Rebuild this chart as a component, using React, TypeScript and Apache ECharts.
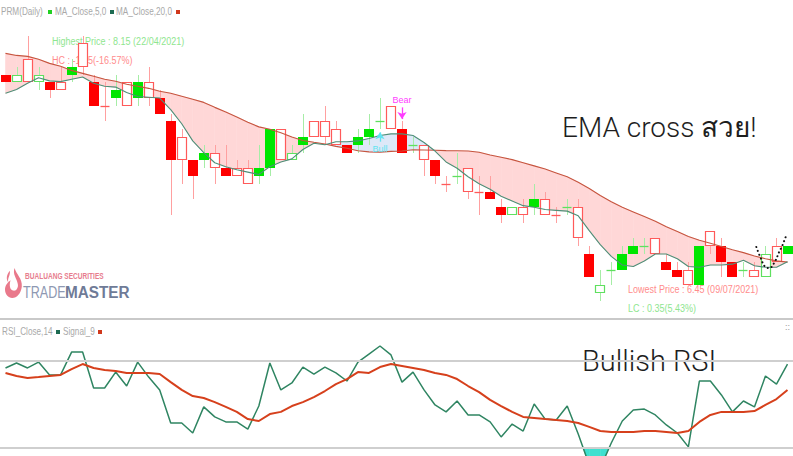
import React, { useEffect, useRef } from "react";
import * as echarts from "echarts";

// ---------- data ----------
const dates = ["20/04/2021","21/04/2021","22/04/2021","23/04/2021","26/04/2021","27/04/2021","28/04/2021","29/04/2021","30/04/2021","05/05/2021",
"06/05/2021","07/05/2021","10/05/2021","11/05/2021","12/05/2021","13/05/2021","14/05/2021","17/05/2021","18/05/2021","19/05/2021",
"20/05/2021","21/05/2021","24/05/2021","25/05/2021","27/05/2021","28/05/2021","31/05/2021","01/06/2021","02/06/2021","04/06/2021",
"07/06/2021","08/06/2021","09/06/2021","10/06/2021","11/06/2021","14/06/2021","15/06/2021","16/06/2021","17/06/2021","18/06/2021",
"21/06/2021","22/06/2021","23/06/2021","24/06/2021","25/06/2021","28/06/2021","29/06/2021","30/06/2021","01/07/2021","02/07/2021",
"05/07/2021","06/07/2021","07/07/2021","08/07/2021","09/07/2021","12/07/2021","13/07/2021","14/07/2021","15/07/2021","16/07/2021",
"19/07/2021","20/07/2021","21/07/2021","22/07/2021","23/07/2021","27/07/2021","29/07/2021","30/07/2021","02/08/2021","03/08/2021",
"04/08/2021","05/08/2021"];

const opens = [7.90,7.85,8.00,7.85,7.85,7.85,7.90,8.10,7.85,7.70,
7.75,7.85,7.75,7.85,7.75,7.60,7.50,7.35,7.35,7.40,
7.30,7.30,7.30,7.25,7.30,7.55,7.35,7.45,7.60,7.60,
7.55,7.45,7.45,7.50,7.60,7.70,7.55,7.45,7.45,7.35,
7.20,7.25,7.30,7.15,7.15,7.05,7.00,7.05,7.05,7.10,
7.00,7.05,7.05,6.75,6.50,6.65,6.65,6.75,6.80,6.85,
6.70,6.65,6.65,6.55,6.90,6.80,6.70,6.65,6.65,6.60,
6.80,6.75];
const highs = [7.90,7.95,8.15,7.95,7.85,7.95,8.00,8.15,7.90,7.85,
7.90,7.85,7.90,7.95,7.80,7.65,7.55,7.35,7.45,7.45,
7.45,7.35,7.35,7.45,7.55,7.55,7.45,7.65,7.60,7.70,
7.60,7.45,7.55,7.65,7.75,7.70,7.60,7.50,7.45,7.35,
7.25,7.40,7.30,7.25,7.25,7.10,7.05,7.10,7.20,7.15,
7.05,7.10,7.10,6.80,6.65,6.70,6.80,6.85,6.85,6.85,
6.75,6.70,6.70,6.80,6.90,6.85,6.70,6.70,6.70,6.80,
6.85,6.80];
const lows = [7.85,7.85,7.85,7.80,7.75,7.80,7.85,7.90,7.70,7.60,
7.70,7.70,7.70,7.70,7.65,7.00,7.20,7.10,7.30,7.20,
7.25,7.25,7.20,7.20,7.25,7.35,7.35,7.40,7.50,7.45,
7.45,7.40,7.40,7.45,7.55,7.55,7.40,7.40,7.25,7.20,
7.15,7.20,7.10,7.00,7.10,6.95,7.00,6.95,7.00,7.00,
6.95,7.00,6.80,6.60,6.45,6.55,6.65,6.75,6.75,6.75,
6.65,6.60,6.55,6.55,6.75,6.60,6.60,6.60,6.60,6.60,
6.70,6.75];
const closes = [7.85,7.90,7.85,7.90,7.80,7.80,7.95,7.95,7.70,7.70,
7.80,7.70,7.85,7.75,7.65,7.35,7.35,7.25,7.40,7.30,
7.25,7.25,7.20,7.30,7.55,7.35,7.40,7.50,7.50,7.50,
7.45,7.40,7.50,7.55,7.60,7.55,7.40,7.45,7.35,7.25,
7.20,7.25,7.15,7.15,7.10,7.00,7.05,7.00,7.10,7.00,
7.00,7.05,6.85,6.60,6.55,6.65,6.75,6.80,6.80,6.75,
6.65,6.60,6.55,6.80,6.80,6.70,6.60,6.65,6.60,6.75,
6.70,6.80];
// 1 = hollow body, 0 = solid body (as drawn by the platform)
const hollow = [0,1,1,1,0,1,0,1,0,0,
0,1,0,1,0,0,1,0,0,1,
0,1,1,0,0,1,1,0,1,1,
1,0,0,0,0,1,0,0,1,0,
0,0,1,0,0,0,1,1,0,1,
0,0,1,0,1,0,0,0,0,1,
0,0,1,0,1,0,0,0,1,1,
1,0];
// doji days drawn in the "up" colour
const dojiUp = [34, 37, 41, 51, 55, 58, 67];

const ma5 = [7.78,7.805,7.845,7.88,7.86,7.855,7.87,7.885,7.845,7.825,
7.82,7.785,7.76,7.755,7.75,7.675,7.585,7.475,7.40,7.335,
7.31,7.29,7.275,7.26,7.31,7.34,7.36,7.42,7.46,7.45,
7.47,7.47,7.475,7.49,7.51,7.52,7.52,7.51,7.465,7.41,
7.34,7.30,7.245,7.20,7.165,7.12,7.09,7.06,7.05,7.035,
7.03,7.025,6.995,6.90,6.81,6.735,6.68,6.67,6.705,6.75,
6.75,6.72,6.67,6.665,6.68,6.68,6.685,6.71,6.675,6.665,
6.665,6.70];
const ma20 = [8.036,8.023,8.017,7.998,7.972,7.953,7.927,7.908,7.889,7.870,
7.857,7.838,7.825,7.812,7.793,7.780,7.761,7.742,7.722,7.690,
7.660,7.628,7.595,7.565,7.550,7.527,7.500,7.478,7.466,7.455,
7.440,7.428,7.412,7.405,7.403,7.408,7.410,7.418,7.417,7.415,
7.413,7.412,7.410,7.402,7.385,7.370,7.355,7.335,7.315,7.295,
7.270,7.245,7.210,7.170,7.125,7.085,7.050,7.020,6.990,6.960,
6.925,6.895,6.862,6.838,6.819,6.798,6.777,6.759,6.737,6.720,
6.706,6.698];

const rsi = [66.8,69.1,66.8,69.5,63.6,63.6,74.1,74.1,57.6,57.6,
64.9,58.5,69.5,62.6,56.7,41.5,41.5,36.9,48.9,44.3,
42.0,42.0,38.7,49.3,69.1,56.7,59.9,67.2,64.0,67.2,
64.5,60.8,69.5,73.2,76.9,72.8,60.3,64.9,56.7,49.8,
46.6,51.6,45.2,45.2,42.0,35.1,41.0,37.8,50.2,43.3,
42.9,49.3,36.4,22.2,20.8,32.3,42.4,47.5,47.9,45.2,
40.6,36.9,30.5,60.8,60.8,54.4,46.6,51.6,48.9,63.1,
59.4,68.6];
const signal = [64.5,63.1,62.2,62.6,63.1,63.6,66.3,68.6,66.8,65.9,
65.4,64.5,64.5,64.5,64.0,60.3,56.7,53.9,53.0,51.1,
48.9,46.6,43.3,42.4,45.6,46.6,49.3,51.1,53.4,56.2,
59.4,61.7,64.9,64.5,67.2,68.6,67.7,66.8,65.9,64.5,
63.6,61.7,58.5,55.7,52.1,49.3,46.6,44.3,43.8,43.3,
42.9,42.4,41.5,39.7,37.8,37.4,37.4,37.4,37.8,37.8,
37.4,36.9,37.8,42.0,45.2,46.6,46.6,46.6,47.0,49.8,
52.5,56.7];
const rsiLevels = [70, 30];

const crossSignals = [
  { idx: 34, name: "Bull", from: 7.47, to: 7.53, color: "#5fe3f0" },
  { idx: 36, name: "Bear", from: 7.69, to: 7.615, color: "#ff3cff" },
];
// hand-drawn dotted mark near the end (index, price)
const sketch = [[68.17, 6.795], [68.53, 6.731], [68.98, 6.667], [69.34, 6.66], [69.88, 6.705], [70.24, 6.763], [70.51, 6.801], [70.87, 6.866]];

const labels = {
  high: "Highest Price : 8.15 (22/04/2021)",
  hc: "HC : -1.35(-16.57%)",
  low: "Lowest Price : 6.45 (09/07/2021)",
  lc: "LC : 0.35(5.43%)",
};

// ---------- styles ----------
const NARROW = "'Liberation Sans Narrow','Arial Narrow','Liberation Sans',Arial,sans-serif";
const RED = "#ff0000", RED_LINE = "#ff5a5a", RED_WICK = "#ffa0a0";
const GREEN = "#00e600", GREEN_LINE = "#5fe05f", GREEN_WICK = "#a6eda6";
const PINK_FILL = "#ffd7d7", BLUE_FILL = "#dde8f8";
const MA5_COLOR = "#4f8f78", MA20_COLOR = "#c6553f";
const RSI_COLOR = "#2f8562", SIG_COLOR = "#d6401c";

const FLAME = "M12 0 C14 7 22 11 21 20 C20 27 15 32 9 32 C4 32 0 28 0 23 C0 18 4 15 7 13 C5 18 6 23 10 24 C14 25 17 21 16 17 C15 11 9 7 12 0 Z M6 3 C7 8 3 10 4 15 C1 12 2 7 6 3 Z";
echarts.graphic.registerShape("flame", echarts.graphic.extendPath(FLAME, {}) as any);

function candleItem(params: any, api: any) {
  const i = api.value(0);
  const o = api.value(1), c = api.value(2), l = api.value(3), h = api.value(4);
  const isHollow = api.value(5) === 1;
  const pO = api.coord([i, o]), pC = api.coord([i, c]);
  const pL = api.coord([i, l]), pH = api.coord([i, h]);
  const bw = api.size([1, 0])[0] * 0.9;
  const cx = Math.round(pO[0]) + 0.5;
  const left = Math.round(pO[0] - bw / 2) + 0.5;
  const w = Math.round(bw) - 1;
  const doji = Math.abs(c - o) < 1e-9;
  const up = doji ? api.value(6) === 1 : c > o;
  const top = Math.round(Math.min(pO[1], pC[1]));
  const bot = Math.round(Math.max(pO[1], pC[1]));
  const children: any[] = [
    { type: "line", shape: { x1: cx, y1: Math.round(pH[1]), x2: cx, y2: Math.round(pL[1]) },
      style: { stroke: up ? GREEN_WICK : RED_WICK, lineWidth: 1 } },
  ];
  if (doji) {
    const y = Math.round(pO[1]) + 0.5;
    children.push({ type: "line", shape: { x1: left, y1: y, x2: left + w, y2: y },
      style: { stroke: up ? GREEN_LINE : RED_LINE, lineWidth: 1.3 } });
  } else if (isHollow) {
    children.push({ type: "rect", shape: { x: left, y: top + 0.5, width: w, height: Math.max(1, bot - top - 1) },
      style: { fill: "#ffffff", stroke: up ? GREEN_LINE : RED_LINE, lineWidth: 1.2 } });
  } else {
    children.push({ type: "rect", shape: { x: left - 0.5, y: top, width: w + 1, height: Math.max(1, bot - top) },
      style: { fill: up ? GREEN : RED } });
  }
  return { type: "group", children };
}

function bandItem(params: any, api: any) {
  const i = params.dataIndex;
  if (i >= ma5.length - 1) return null;
  const a5 = api.coord([i, ma5[i]]), a20 = api.coord([i, ma20[i]]);
  const b5 = api.coord([i + 1, ma5[i + 1]]), b20 = api.coord([i + 1, ma20[i + 1]]);
  const d0 = ma5[i] - ma20[i], d1 = ma5[i + 1] - ma20[i + 1];
  const col = (d: number) => (d > 0 ? BLUE_FILL : PINK_FILL);
  const poly = (pts: number[][], fill: string) => ({
    type: "polygon", shape: { points: pts }, style: { fill, stroke: fill, lineWidth: 0.6 },
  });
  if (d0 * d1 >= 0) {
    const d = Math.abs(d0) > Math.abs(d1) ? d0 : d1;
    return poly([a5, b5, b20, a20], col(d));
  }
  const t = d0 / (d0 - d1);
  const X = [a5[0] + (b5[0] - a5[0]) * t, a5[1] + (b5[1] - a5[1]) * t];
  return { type: "group", children: [poly([a5, X, a20], col(d0)), poly([X, b5, b20], col(d1))] };
}

function oversoldItem(params: any, api: any) {
  const i = params.dataIndex;
  if (i >= rsi.length - 1) return null;
  const lvl = rsiLevels[1];
  const r0 = rsi[i], r1 = rsi[i + 1];
  if (r0 >= lvl && r1 >= lvl) return null;
  const p0 = api.coord([i, r0]), p1 = api.coord([i + 1, r1]);
  const y30 = api.coord([i, lvl])[1];
  let pts: number[][];
  if (r0 < lvl && r1 < lvl) pts = [p0, p1, [p1[0], y30], [p0[0], y30]];
  else {
    const t = (r0 - lvl) / (r0 - r1);
    const xc = p0[0] + (p1[0] - p0[0]) * t;
    pts = r0 < lvl ? [p0, [xc, y30], [p0[0], y30]] : [[xc, y30], p1, [p1[0], y30]];
  }
  return { type: "polygon", shape: { points: pts }, style: { fill: "#3fe0cf", stroke: "#3fe0cf", lineWidth: 0.5 } };
}

const txt = (text: string, x: number, y: number, fill: string, size = 11, extra: any = {}) => ({
  type: "text", x, y, silent: true, scaleX: extra.scaleX ?? 1,
  style: { text, fill, font: `${extra.weight || "normal"} ${size}px ${extra.family || NARROW}`, textVerticalAlign: "middle", textAlign: "left" },
});
const sq = (x: number, y: number, fill: string) => ({ type: "rect", silent: true, shape: { x, y, width: 4, height: 4 }, style: { fill } });

export default function App() {
  const ref = useRef<HTMLDivElement>(null);
  useEffect(() => {
    if (!ref.current) return;
    const chart = echarts.init(ref.current, null, { renderer: "svg", width: 793, height: 456 });
    const idx = dates.map((_, i) => i);
    const option: any = {
      animation: false,
      backgroundColor: "#ffffff",
      grid: [
        { left: 0, width: 795, top: 20, height: 298 },
        { left: 0, width: 795, top: 322, height: 134 },
      ],
      xAxis: [
        { type: "category", data: dates, gridIndex: 0, show: false, boundaryGap: true },
        { type: "category", data: dates, gridIndex: 1, show: false, boundaryGap: true },
        { type: "value", gridIndex: 0, min: -0.5, max: dates.length - 0.5, show: false },
      ],
      yAxis: [
        { type: "value", gridIndex: 0, min: 6.34, max: 8.25, show: false, splitLine: { show: false } },
        { type: "value", gridIndex: 1, min: 26.32, max: 87.93, show: false, splitLine: { show: false } },
      ],
      series: [
        {
          type: "custom", name: "band", xAxisIndex: 0, yAxisIndex: 0, z: 1, silent: true, clip: true,
          renderItem: bandItem, data: idx.map((i) => [i, ma5[i], ma20[i]]), encode: { x: 0, y: [1, 2] },
        },
        {
          type: "custom", name: "PRM(Daily)", xAxisIndex: 0, yAxisIndex: 0, z: 3, silent: true, clip: true,
          renderItem: candleItem,
          data: idx.map((i) => [i, opens[i], closes[i], lows[i], highs[i], hollow[i], dojiUp.includes(i) ? 1 : 0]),
          encode: { x: 0, y: [1, 2, 3, 4] },
        },
        {
          type: "line", name: "MA_Close,20,0", xAxisIndex: 0, yAxisIndex: 0, z: 4, data: ma20, symbol: "none", silent: true,
          lineStyle: { color: MA20_COLOR, width: 1.1 },
          markLine: {
            silent: true, symbol: ["none", "arrow"], symbolSize: 7, animation: false,
            data: crossSignals.map((s) => [
              { coord: [s.idx, s.from], lineStyle: { color: s.color, width: 1.3, type: "solid" },
                label: { show: true, position: "start", formatter: s.name, color: s.color, fontSize: 9, fontFamily: NARROW, distance: 3 } },
              { coord: [s.idx, s.to] },
            ]),
          },
        },
        {
          type: "line", name: "MA_Close,5,0", xAxisIndex: 0, yAxisIndex: 0, z: 4, data: ma5, symbol: "none", silent: true,
          lineStyle: { color: MA5_COLOR, width: 1.1 },
        },
        {
          type: "line", name: "sketch", xAxisIndex: 2, yAxisIndex: 0, z: 5, data: sketch, symbol: "none", silent: true, smooth: 0.4,
          lineStyle: { color: "#111111", width: 2, type: [0.1, 4], cap: "round" },
        },
        {
          type: "custom", name: "oversold", xAxisIndex: 1, yAxisIndex: 1, z: 1, silent: true, clip: true,
          renderItem: oversoldItem, data: idx.map((i) => [i, rsi[i]]), encode: { x: 0, y: 1 },
        },
        {
          type: "line", name: "RSI_Close,14", xAxisIndex: 1, yAxisIndex: 1, z: 3, data: rsi, symbol: "none", silent: true,
          lineStyle: { color: RSI_COLOR, width: 1.5 },
          markLine: {
            silent: true, symbol: ["none", "none"], animation: false, label: { show: false },
            lineStyle: { color: "#cfcfcf", width: 1.8, type: "solid" },
            data: rsiLevels.map((v) => ({ yAxis: v })),
          },
        },
        {
          type: "line", name: "Signal_9", xAxisIndex: 1, yAxisIndex: 1, z: 4, data: signal, symbol: "none", silent: true,
          lineStyle: { color: SIG_COLOR, width: 2 },
        },
      ],
      graphic: {
        elements: [
          // panel separator
          { type: "rect", silent: true, shape: { x: 0, y: 318, width: 793, height: 2 }, style: { fill: "#c9c9c9" } },
          // price legend
          txt("PRM(Daily)", 1, 12, "#a9a9a9", 10, { scaleX: 0.82 }),
          sq(48, 10, "#22d022"),
          txt("MA_Close,5,0", 55, 12, "#a9a9a9", 10, { scaleX: 0.82 }),
          sq(110, 10, "#1d6b52"),
          txt("MA_Close,20,0", 116, 12, "#a9a9a9", 10, { scaleX: 0.82 }),
          sq(176, 10, "#d0381c"),
          // rsi legend
          txt("RSI_Close,14", 2, 332, "#a9a9a9", 10, { scaleX: 0.82 }),
          sq(56, 330, "#1d6b52"),
          txt("Signal_9", 63, 332, "#a9a9a9", 10, { scaleX: 0.82 }),
          sq(98, 330, "#d0381c"),
          txt("::", 785, 327, "#9a9a9a", 9),
          // high / low annotations
          txt(labels.high, 52, 41, "#8fe68f", 11, { scaleX: 0.82 }),
          txt(labels.hc, 52, 60, "#ff8c8c", 11, { scaleX: 0.82 }),
          txt(labels.low, 628, 289, "#ff8c8c", 11, { scaleX: 0.82 }),
          txt(labels.lc, 628, 308, "#8fe68f", 11, { scaleX: 0.82 }),
          // big annotation texts
          txt("EMA cross สวย!", 562, 127, "#1e1e1e", 28, { family: "Roboto, 'Noto Sans', sans-serif", weight: 300 }),
          txt("Bullish RSI", 582, 361, "#1e1e1e", 29, { family: "Roboto, 'Noto Sans', sans-serif", weight: 300 }),
          // logo
          { type: "flame", x: 5, y: 268, scaleX: 0.8, scaleY: 0.94, silent: true, style: { fill: "#e9798b" } },
          txt("BUALUANG SECURITIES", 25, 276, "#e77d8e", 9, { weight: "bold", scaleX: 0.73 }),
          txt("TRADE", 23, 292, "#8e98b2", 17, { scaleX: 0.74 }),
          txt("MASTER", 65, 292, "#6f7b97", 17, { weight: "bold", scaleX: 0.9 }),
        ],
      },
    };
    chart.setOption(option);
    return () => chart.dispose();
  }, []);
  return (
    <div
      ref={ref}
      style={{ position: "fixed", left: 0, top: 0, width: 793, height: 456, background: "#fff" }}
    />
  );
}
